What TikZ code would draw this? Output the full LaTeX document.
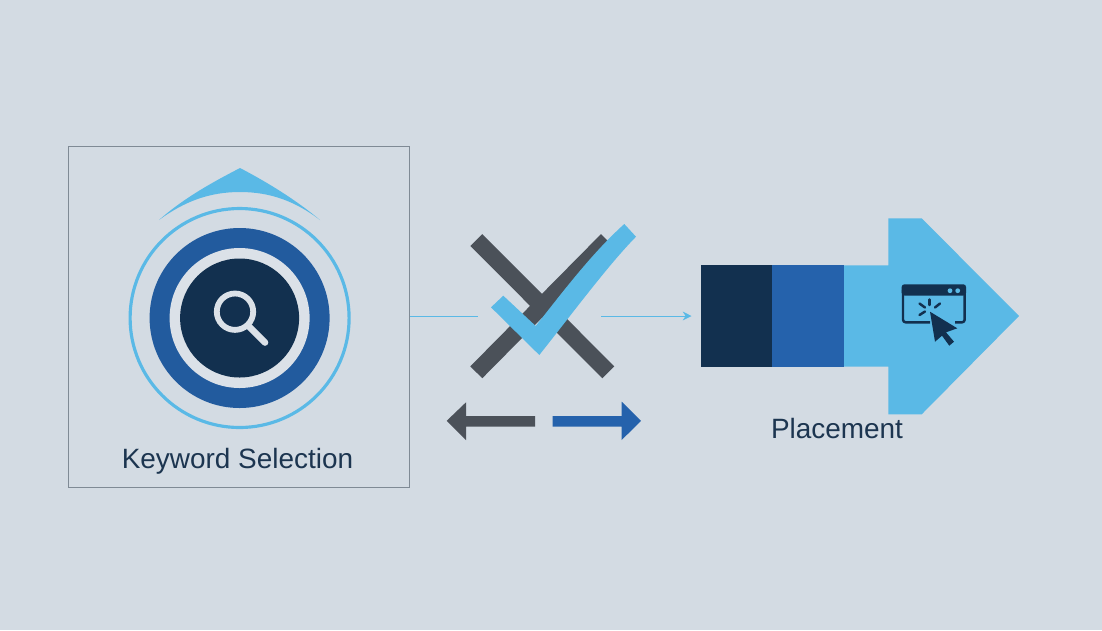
\documentclass[tikz,border=0pt]{standalone}
\usepackage{fontspec}
\setmainfont{Liberation Sans}
\usepackage{tikz}
\usetikzlibrary{arrows.meta,calc}

\definecolor{bgcolor}{HTML}{D3DBE3}
\definecolor{ringlight}{HTML}{DBE1E8}
\definecolor{navy}{HTML}{12304F}
\definecolor{midblue}{HTML}{2562AC}
\definecolor{skyblue}{HTML}{5AB9E6}
\definecolor{slategrey}{HTML}{4B5159}
\definecolor{framegrey}{HTML}{7F8A95}
\definecolor{labelcolor}{HTML}{1C3550}

\tikzset{
    label text/.style={text=labelcolor, font=\fontsize{15.9}{18}\selectfont, inner sep=0pt, anchor=base},
    thin link/.style={draw=skyblue, line width=0.5pt},
    cross bar/.style={draw=slategrey, line width=9.6pt},
    ray/.style={draw=navy, line width=1.4pt, line cap=round},
    window line/.style={draw=navy, line width=1.4pt, line join=round, rounded corners=1.5pt},
}

\begin{document}
\begin{tikzpicture}[x=0.02cm, y=-0.02cm, >=Stealth]

    %% Background
    \draw[draw=none, fill=bgcolor] (0,0) rectangle (1102,630);

    % Keyword box
    \node (keywordbox) [draw=framegrey, line width=0.6pt, minimum width=6.82cm, minimum height=6.82cm, inner sep=0pt] at (239.2,317.2) {};
    \node (keywordlabel) [label text] at (237.5,468.3) {Keyword Selection};

    % Cap
    \fill[skyblue] (159,220) .. controls (185,197) and (215,181) .. (240,168)
        .. controls (265,181) and (295,199) .. (320,220)
        .. controls (295,201) and (270,192) .. (240,192)
        .. controls (210,192) and (185,201) .. (159,220) -- cycle;

    % Rings
    \draw[skyblue, line width=1.8pt] (239.6,318) circle (109.5);
    \fill[midblue!85!navy] (239.6,318) circle (90);
    \fill[ringlight] (239.6,318) circle (70);
    \fill[navy] (239.6,318) circle (59.5);

    % Magnifier
    \draw[ringlight, line width=3.3pt] (235,311.7) circle (18.2);
    \draw[ringlight, line width=3.8pt, line cap=round] (249,326.5) -- (265,342.5);

    % Connectors
    \coordinate (leftend) at (478,316);
    \coordinate (rightstart) at (601,316);
    \coordinate (rightend) at (691.5,316);
    \draw[thin link] (keywordbox.east |- leftend) -- (leftend);
    \draw[thin link, -{Stealth[length=5pt, width=5pt]}] (rightstart) -- (rightend);

    % Cross
    \draw[cross bar] (476.3,240) -- (608.3,372.3);
    \draw[cross bar] (476.3,372.3) -- (607,240);

    % Check
    \fill[skyblue] (503.3,295.7) -- (535.7,326) .. controls (561.7,293.3) and (591.7,253.3) .. (624.3,224)
        -- (636,236.7) .. controls (608.3,265) and (575,310) .. (539.3,355) -- (491,307.3) -- cycle;

    % Small arrows
    \fill[slategrey] (535,416) -- (466,416) -- (466,402.3) -- (446.7,420.8) -- (466,440) -- (466,426.7) -- (535,426.7) -- cycle;
    \fill[midblue] (552.7,416) -- (621.7,416) -- (621.7,401.7) -- (641,420.8) -- (621.7,440) -- (621.7,426.7) -- (552.7,426.7) -- cycle;

    % Placement arrow
    \fill[skyblue] (843.7,265.3) -- (888.3,265.3) -- (888.3,218.3) -- (921.7,218.3) -- (1019,316)
        -- (921.7,414.3) -- (888.3,414.3) -- (888.3,366.7) -- (843.7,366.7) -- cycle;
    \fill[navy] (701,265.3) rectangle (772,366.7);
    \fill[midblue] (772,265.3) rectangle (843.7,366.7);
    \node (placementlabel) [label text] at (837,438) {Placement};

    % Window
    \fill[navy, rounded corners=1.5pt] (901.7,284.3) rectangle (966,295.5);
    \draw[window line] (930,322.3) -- (903,322.3) -- (903,290);
    \draw[window line] (964.7,290) -- (964.7,322.3) -- (955,322.3);
    \fill[skyblue] (950,290.7) circle (2.4) (957.7,290.7) circle (2.4);

    % Clicks
    \draw[ray] (929.3,299.5) -- (929.3,305);
    \draw[ray] (940,303.5) -- (935,307.5);
    \draw[ray] (919.5,303.5) -- (925,307.5);
    \draw[ray] (919.5,315) -- (925,311.5);

    % Cursor
    \fill[navy] (930,311.7) -- (957.3,328.3) -- (946,332.3) -- (954,341.7) -- (949.3,345.7) -- (942,335.7) -- (935,341.7) -- cycle;

\end{tikzpicture}
\end{document}
